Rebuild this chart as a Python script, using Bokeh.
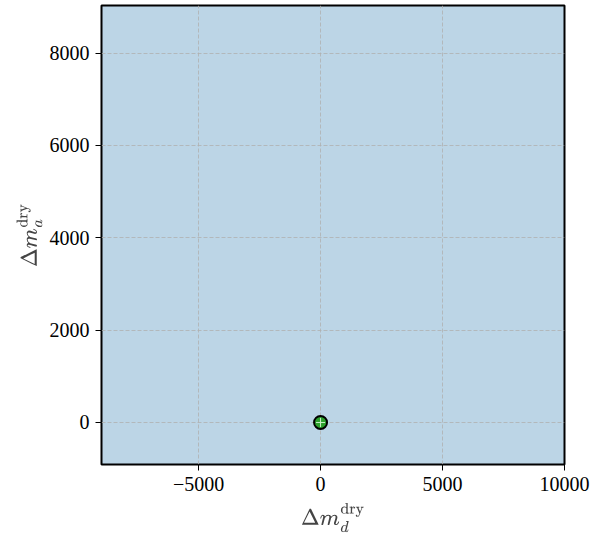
from bokeh.plotting import figure
from bokeh.models import Range1d, FixedTicker
from bokeh.embed import file_html
from bokeh.resources import INLINE

x_vals = [0.0]
y_vals = [0.0]
x_ticks = [-5000, 0, 5000, 10000]
y_ticks = [0, 2000, 4000, 6000, 8000]
x_label = r"$$\Delta m_d^{\mathrm{dry}}$$"
y_label = r"$$\Delta m_a^{\mathrm{dry}}$$"

p = figure(width=599, height=535, output_backend="svg", toolbar_location=None,
           x_range=Range1d(-8980, 10000), y_range=Range1d(-910, 9030),
           min_border_left=101, min_border_right=35, min_border_top=5, min_border_bottom=70)
p.background_fill_color = "#bcd5e6"
p.border_fill_color = "white"
p.outline_line_color = "black"
p.outline_line_width = 2

for ax, ticks in ((p.xaxis, x_ticks), (p.yaxis, y_ticks)):
    ax.ticker = FixedTicker(ticks=ticks)
    ax.major_label_text_font = "Liberation Serif"
    ax.major_label_text_font_size = "20px"
    ax.major_label_text_color = "black"
    ax.major_label_standoff = 6
    ax.axis_label_text_font = "Liberation Serif"
    ax.axis_label_text_font_size = "20px"
    ax.axis_label_text_font_style = "normal"
    ax.axis_label_standoff = 4
    ax.axis_line_color = None
    ax.major_tick_line_color = "black"
    ax.major_tick_in = 0
    ax.major_tick_out = 6
    ax.minor_tick_line_color = None
p.xaxis.axis_label_standoff = 9
p.xaxis.major_label_overrides = {-5000: "\u22125000"}
p.xaxis.axis_label = x_label
p.yaxis.axis_label = y_label

p.grid.grid_line_color = "#b0b0b0"
p.grid.grid_line_dash = "4 2"
p.grid.grid_line_width = 0.8

p.scatter(x_vals, y_vals, size=13, fill_color="#2ca02c", line_color="black", line_width=2)
p.scatter(x_vals, y_vals, marker="cross", size=9, line_color="#c8f0c8", line_width=1)

open("out.html", "w").write(file_html(p, INLINE))
